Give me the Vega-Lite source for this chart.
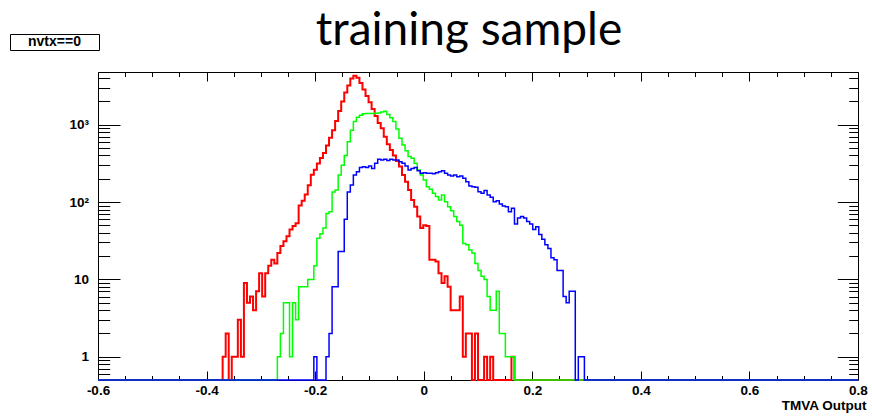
{
  "$schema": "https://vega.github.io/schema/vega-lite/v6.json",
  "width": 760,
  "height": 308,
  "autosize": "none",
  "padding": {"left": 98, "top": 72, "right": 14, "bottom": 36},
  "background": "white",
  "config": {
    "view": {"stroke": "black", "strokeWidth": 1},
    "axis": {"labelFont": "Liberation Sans", "labelFontWeight": "bold", "labelFontSize": 13.5, "labelColor": "black", "tickColor": "black", "tickWidth": 1, "domain": false, "grid": false, "titleFont": "Liberation Sans", "titleFontWeight": "bold", "titleFontSize": 13.5, "titleColor": "black", "labelOverlap": false, "labelFlush": false, "labelBound": false}
  },
  "title": {"text": "training sample", "font": "Lato", "fontSize": 46, "fontWeight": "normal", "color": "black", "anchor": "middle", "frame": "group", "baseline": "alphabetic", "offset": -57, "dx": -9},
  "datasets": {
    "h": [
      {"s":"r","x":-0.6,"n":0},
      {"s":"r","x":-0.3704,"n":1},{"s":"r","x":-0.3648,"n":2},{"s":"r","x":-0.3592,"n":0},{"s":"r","x":-0.3536,"n":1},{"s":"r","x":-0.348,"n":1},{"s":"r","x":-0.3424,"n":3},{"s":"r","x":-0.3368,"n":1},{"s":"r","x":-0.3312,"n":9},{"s":"r","x":-0.3256,"n":5},{"s":"r","x":-0.32,"n":6},
      {"s":"r","x":-0.3144,"n":4},{"s":"r","x":-0.3088,"n":7},{"s":"r","x":-0.3032,"n":12},{"s":"r","x":-0.2976,"n":6},{"s":"r","x":-0.292,"n":12},{"s":"r","x":-0.2864,"n":15},{"s":"r","x":-0.2808,"n":18},{"s":"r","x":-0.2752,"n":16},{"s":"r","x":-0.2696,"n":22},{"s":"r","x":-0.264,"n":27},
      {"s":"r","x":-0.2584,"n":31},{"s":"r","x":-0.2528,"n":36},{"s":"r","x":-0.2472,"n":44},{"s":"r","x":-0.2416,"n":49},{"s":"r","x":-0.236,"n":53},{"s":"r","x":-0.2304,"n":90},{"s":"r","x":-0.2248,"n":104},{"s":"r","x":-0.2192,"n":125},{"s":"r","x":-0.2136,"n":165},{"s":"r","x":-0.208,"n":225},
      {"s":"r","x":-0.2024,"n":262},{"s":"r","x":-0.1968,"n":315},{"s":"r","x":-0.1912,"n":370},{"s":"r","x":-0.1856,"n":430},{"s":"r","x":-0.18,"n":540},{"s":"r","x":-0.1744,"n":680},{"s":"r","x":-0.1688,"n":850},{"s":"r","x":-0.1632,"n":1120},{"s":"r","x":-0.1576,"n":1500},{"s":"r","x":-0.152,"n":2000},
      {"s":"r","x":-0.1464,"n":2600},{"s":"r","x":-0.1408,"n":3200},{"s":"r","x":-0.1352,"n":3950},{"s":"r","x":-0.1296,"n":4300},{"s":"r","x":-0.124,"n":4050},{"s":"r","x":-0.1184,"n":3450},{"s":"r","x":-0.1128,"n":2850},{"s":"r","x":-0.1072,"n":2350},{"s":"r","x":-0.1016,"n":1950},{"s":"r","x":-0.096,"n":1600},
      {"s":"r","x":-0.0904,"n":1300},{"s":"r","x":-0.0848,"n":1050},{"s":"r","x":-0.0792,"n":900},{"s":"r","x":-0.0736,"n":700},{"s":"r","x":-0.068,"n":560},{"s":"r","x":-0.0624,"n":470},{"s":"r","x":-0.0568,"n":400},{"s":"r","x":-0.0512,"n":340},{"s":"r","x":-0.0456,"n":287},{"s":"r","x":-0.04,"n":224},
      {"s":"r","x":-0.0344,"n":183},{"s":"r","x":-0.0288,"n":143},{"s":"r","x":-0.0232,"n":106},{"s":"r","x":-0.0176,"n":87},{"s":"r","x":-0.012,"n":65},{"s":"r","x":-0.0064,"n":46},{"s":"r","x":-0.0008,"n":50},{"s":"r","x":0.0048,"n":49},{"s":"r","x":0.0104,"n":18},{"s":"r","x":0.016,"n":18},
      {"s":"r","x":0.0216,"n":17},{"s":"r","x":0.0272,"n":12},{"s":"r","x":0.0328,"n":9},{"s":"r","x":0.0384,"n":11},{"s":"r","x":0.044,"n":8},{"s":"r","x":0.0496,"n":4},{"s":"r","x":0.0552,"n":4},{"s":"r","x":0.0608,"n":4},{"s":"r","x":0.0664,"n":6},{"s":"r","x":0.072,"n":1},
      {"s":"r","x":0.0776,"n":2},{"s":"r","x":0.0832,"n":2},{"s":"r","x":0.0888,"n":0},{"s":"r","x":0.0944,"n":2},{"s":"r","x":0.1,"n":0},{"s":"r","x":0.1112,"n":1},{"s":"r","x":0.1168,"n":0},{"s":"r","x":0.1224,"n":1},{"s":"r","x":0.128,"n":0},{"s":"r","x":0.1616,"n":1},{"s":"r","x":0.1672,"n":0},
      {"s":"r","x":0.8,"n":0},

      {"s":"g","x":-0.6,"n":0},
      {"s":"g","x":-0.2696,"n":1},{"s":"g","x":-0.264,"n":2},{"s":"g","x":-0.2584,"n":5},{"s":"g","x":-0.2528,"n":5},{"s":"g","x":-0.2472,"n":1},{"s":"g","x":-0.2416,"n":5},{"s":"g","x":-0.236,"n":3},{"s":"g","x":-0.2304,"n":8},{"s":"g","x":-0.2248,"n":8},{"s":"g","x":-0.2192,"n":8},
      {"s":"g","x":-0.2136,"n":10},{"s":"g","x":-0.208,"n":10},{"s":"g","x":-0.2024,"n":15},{"s":"g","x":-0.1968,"n":34},{"s":"g","x":-0.1912,"n":39},{"s":"g","x":-0.1856,"n":46},{"s":"g","x":-0.18,"n":71},{"s":"g","x":-0.1744,"n":75},{"s":"g","x":-0.1688,"n":135},{"s":"g","x":-0.1632,"n":143},
      {"s":"g","x":-0.1576,"n":224},{"s":"g","x":-0.152,"n":300},{"s":"g","x":-0.1464,"n":400},{"s":"g","x":-0.1408,"n":600},{"s":"g","x":-0.1352,"n":850},{"s":"g","x":-0.1296,"n":1100},{"s":"g","x":-0.124,"n":1250},{"s":"g","x":-0.1184,"n":1320},{"s":"g","x":-0.1128,"n":1380},{"s":"g","x":-0.1072,"n":1400},
      {"s":"g","x":-0.1016,"n":1400},{"s":"g","x":-0.096,"n":1400},{"s":"g","x":-0.0904,"n":1410},{"s":"g","x":-0.0848,"n":1420},{"s":"g","x":-0.0792,"n":1460},{"s":"g","x":-0.0736,"n":1490},{"s":"g","x":-0.068,"n":1350},{"s":"g","x":-0.0624,"n":1230},{"s":"g","x":-0.0568,"n":1100},{"s":"g","x":-0.0512,"n":880},
      {"s":"g","x":-0.0456,"n":667},{"s":"g","x":-0.04,"n":547},{"s":"g","x":-0.0344,"n":462},{"s":"g","x":-0.0288,"n":387},{"s":"g","x":-0.0232,"n":369},{"s":"g","x":-0.0176,"n":317},{"s":"g","x":-0.012,"n":260},{"s":"g","x":-0.0064,"n":224},{"s":"g","x":-0.0008,"n":193},{"s":"g","x":0.0048,"n":158},
      {"s":"g","x":0.0104,"n":146},{"s":"g","x":0.016,"n":130},{"s":"g","x":0.0216,"n":118},{"s":"g","x":0.0272,"n":106},{"s":"g","x":0.0328,"n":123},{"s":"g","x":0.0384,"n":101},{"s":"g","x":0.044,"n":87},{"s":"g","x":0.0496,"n":77},{"s":"g","x":0.0552,"n":65},{"s":"g","x":0.0608,"n":56},
      {"s":"g","x":0.0664,"n":50},{"s":"g","x":0.072,"n":29},{"s":"g","x":0.0776,"n":28},{"s":"g","x":0.0832,"n":24},{"s":"g","x":0.0888,"n":22},{"s":"g","x":0.0944,"n":16},{"s":"g","x":0.1,"n":13},{"s":"g","x":0.1056,"n":11},{"s":"g","x":0.1112,"n":10},{"s":"g","x":0.1168,"n":6},
      {"s":"g","x":0.1224,"n":4},{"s":"g","x":0.128,"n":4},{"s":"g","x":0.1336,"n":7},{"s":"g","x":0.1392,"n":2},{"s":"g","x":0.1448,"n":2},{"s":"g","x":0.1504,"n":1},{"s":"g","x":0.156,"n":1},{"s":"g","x":0.1616,"n":1},{"s":"g","x":0.1672,"n":0},
      {"s":"g","x":0.8,"n":0},

      {"s":"b","x":-0.6,"n":0},
      {"s":"b","x":-0.2024,"n":1},{"s":"b","x":-0.1968,"n":0},{"s":"b","x":-0.18,"n":1},{"s":"b","x":-0.1744,"n":2},{"s":"b","x":-0.1688,"n":8},{"s":"b","x":-0.1632,"n":8},{"s":"b","x":-0.1576,"n":23},{"s":"b","x":-0.152,"n":23},{"s":"b","x":-0.1464,"n":60},{"s":"b","x":-0.1408,"n":135},
      {"s":"b","x":-0.1352,"n":166},{"s":"b","x":-0.1296,"n":224},{"s":"b","x":-0.124,"n":247},{"s":"b","x":-0.1184,"n":280},{"s":"b","x":-0.1128,"n":286},{"s":"b","x":-0.1072,"n":280},{"s":"b","x":-0.1016,"n":293},{"s":"b","x":-0.096,"n":271},{"s":"b","x":-0.0904,"n":317},{"s":"b","x":-0.0848,"n":358},
      {"s":"b","x":-0.0792,"n":350},{"s":"b","x":-0.0736,"n":358},{"s":"b","x":-0.068,"n":344},{"s":"b","x":-0.0624,"n":358},{"s":"b","x":-0.0568,"n":350},{"s":"b","x":-0.0512,"n":350},{"s":"b","x":-0.0456,"n":333},{"s":"b","x":-0.04,"n":317},{"s":"b","x":-0.0344,"n":293},{"s":"b","x":-0.0288,"n":259},
      {"s":"b","x":-0.0232,"n":271},{"s":"b","x":-0.0176,"n":280},{"s":"b","x":-0.012,"n":254},{"s":"b","x":-0.0064,"n":235},{"s":"b","x":-0.0008,"n":240},{"s":"b","x":0.0048,"n":235},{"s":"b","x":0.0104,"n":235},{"s":"b","x":0.016,"n":232},{"s":"b","x":0.0216,"n":240},{"s":"b","x":0.0272,"n":247},
      {"s":"b","x":0.0328,"n":254},{"s":"b","x":0.0384,"n":235},{"s":"b","x":0.044,"n":224},{"s":"b","x":0.0496,"n":217},{"s":"b","x":0.0552,"n":224},{"s":"b","x":0.0608,"n":213},{"s":"b","x":0.0664,"n":217},{"s":"b","x":0.072,"n":203},{"s":"b","x":0.0776,"n":183},{"s":"b","x":0.0832,"n":161},
      {"s":"b","x":0.0888,"n":158},{"s":"b","x":0.0944,"n":155},{"s":"b","x":0.1,"n":136},{"s":"b","x":0.1056,"n":130},{"s":"b","x":0.1112,"n":141},{"s":"b","x":0.1168,"n":123},{"s":"b","x":0.1224,"n":115},{"s":"b","x":0.128,"n":101},{"s":"b","x":0.1336,"n":104},{"s":"b","x":0.1392,"n":94},
      {"s":"b","x":0.1448,"n":89},{"s":"b","x":0.1504,"n":87},{"s":"b","x":0.156,"n":75},{"s":"b","x":0.1616,"n":83},{"s":"b","x":0.1672,"n":52},{"s":"b","x":0.1728,"n":62},{"s":"b","x":0.1784,"n":65},{"s":"b","x":0.184,"n":62},{"s":"b","x":0.1896,"n":56},{"s":"b","x":0.1952,"n":52},
      {"s":"b","x":0.2008,"n":44},{"s":"b","x":0.2064,"n":48},{"s":"b","x":0.212,"n":38},{"s":"b","x":0.2176,"n":33},{"s":"b","x":0.2232,"n":28},{"s":"b","x":0.2288,"n":25},{"s":"b","x":0.2344,"n":19},{"s":"b","x":0.24,"n":18},{"s":"b","x":0.2456,"n":13},{"s":"b","x":0.2512,"n":13},
      {"s":"b","x":0.2568,"n":6},{"s":"b","x":0.2624,"n":5},{"s":"b","x":0.268,"n":7},{"s":"b","x":0.2736,"n":7},{"s":"b","x":0.2792,"n":0},{"s":"b","x":0.2848,"n":1},{"s":"b","x":0.2904,"n":1},{"s":"b","x":0.296,"n":0},
      {"s":"b","x":0.8,"n":0}
    ]
  },
  "data": {"name": "h"},
  "layer": [
    {
      "transform": [{"filter": "datum.s == 'r'"}],
      "mark": {"type": "line", "interpolate": "step-after", "strokeWidth": 2, "invalid": "show"},
      "encoding": {
        "x": {"field": "x", "type": "quantitative", "scale": {"domain": [-0.6, 0.8], "nice": false, "zero": false},
          "axis": {"orient": "bottom", "values": [-0.6,-0.55,-0.5,-0.45,-0.4,-0.35,-0.3,-0.25,-0.2,-0.15,-0.1,-0.05,0,0.05,0.1,0.15,0.2,0.25,0.3,0.35,0.4,0.45,0.5,0.55,0.6,0.65,0.7,0.75,0.8],
            "tickSize": {"condition": {"test": "abs(datum.value*5 - round(datum.value*5)) < 0.001", "value": -9}, "value": -4.5},
            "labelExpr": "abs(datum.value*5 - round(datum.value*5)) < 0.001 ? '' + datum.value : ''",
            "labelPadding": 12, "title": "TMVA Output", "titleAnchor": "end", "titleAlign": "right", "titleX": 768, "titleY": 29, "titleBaseline": "alphabetic"}},
        "y": {"field": "n", "type": "quantitative", "scale": {"type": "log", "domain": [0.5, 4800], "nice": false, "clamp": true},
          "axis": {"orient": "left", "values": [0.6,0.7,0.8,0.9,1,2,3,4,5,6,7,8,9,10,20,30,40,50,60,70,80,90,100,200,300,400,500,600,700,800,900,1000,2000,3000,4000],
            "tickSize": {"condition": {"test": "abs(log(datum.value)/LN10 - round(log(datum.value)/LN10)) < 0.001", "value": -22}, "value": -11.7},
            "labelExpr": "datum.value == 1000 ? '10³' : datum.value == 100 ? '10²' : datum.value == 10 ? '10' : datum.value == 1 ? '1' : ''",
            "labelPadding": 31.5, "title": null}},
        "color": {"field": "s", "type": "nominal", "scale": {"domain": ["r", "g", "b"], "range": ["#ff0000", "#00ff00", "#0000ff"]},
          "legend": {"values": ["r", "g"], "orient": "none", "legendX": -88, "legendY": -38, "title": null, "direction": "horizontal", "columns": 2, "columnPadding": 0,
            "labelExpr": "datum.value == 'r' ? 'nvtx==0' : ''", "labelFont": "Liberation Sans", "labelFontSize": 14, "labelFontWeight": "bold", "labelColor": "black", "labelOffset": 3,
            "symbolType": "square", "symbolSize": 49, "symbolOpacity": 0, "symbolStrokeWidth": 0, "symbolFillColor": "white",
            "strokeColor": "black", "fillColor": "white", "padding": 1, "rowPadding": 0}}
      }
    },
    {
      "transform": [{"filter": "datum.s == 'g'"}],
      "mark": {"type": "line", "interpolate": "step-after", "strokeWidth": 1.5, "invalid": "show"},
      "encoding": {
        "x": {"field": "x", "type": "quantitative",
          "axis": {"orient": "top", "values": [-0.6,-0.55,-0.5,-0.45,-0.4,-0.35,-0.3,-0.25,-0.2,-0.15,-0.1,-0.05,0,0.05,0.1,0.15,0.2,0.25,0.3,0.35,0.4,0.45,0.5,0.55,0.6,0.65,0.7,0.75,0.8],
            "tickSize": {"condition": {"test": "abs(datum.value*5 - round(datum.value*5)) < 0.001", "value": -9}, "value": -4.5},
            "labels": false, "title": null}},
        "y": {"field": "n", "type": "quantitative",
          "axis": {"orient": "right", "values": [0.6,0.7,0.8,0.9,1,2,3,4,5,6,7,8,9,10,20,30,40,50,60,70,80,90,100,200,300,400,500,600,700,800,900,1000,2000,3000,4000],
            "tickSize": {"condition": {"test": "abs(log(datum.value)/LN10 - round(log(datum.value)/LN10)) < 0.001", "value": -20.7}, "value": -9.3},
            "labels": false, "title": null}},
        "color": {"field": "s", "type": "nominal"}
      }
    },
    {
      "transform": [{"filter": "datum.s == 'b'"}],
      "mark": {"type": "line", "interpolate": "step-after", "strokeWidth": 1.5, "invalid": "show"},
      "encoding": {
        "x": {"field": "x", "type": "quantitative", "axis": null},
        "y": {"field": "n", "type": "quantitative", "axis": null},
        "color": {"field": "s", "type": "nominal"}
      }
    }
  ],
  "resolve": {"axis": {"x": "independent", "y": "independent"}}
}
